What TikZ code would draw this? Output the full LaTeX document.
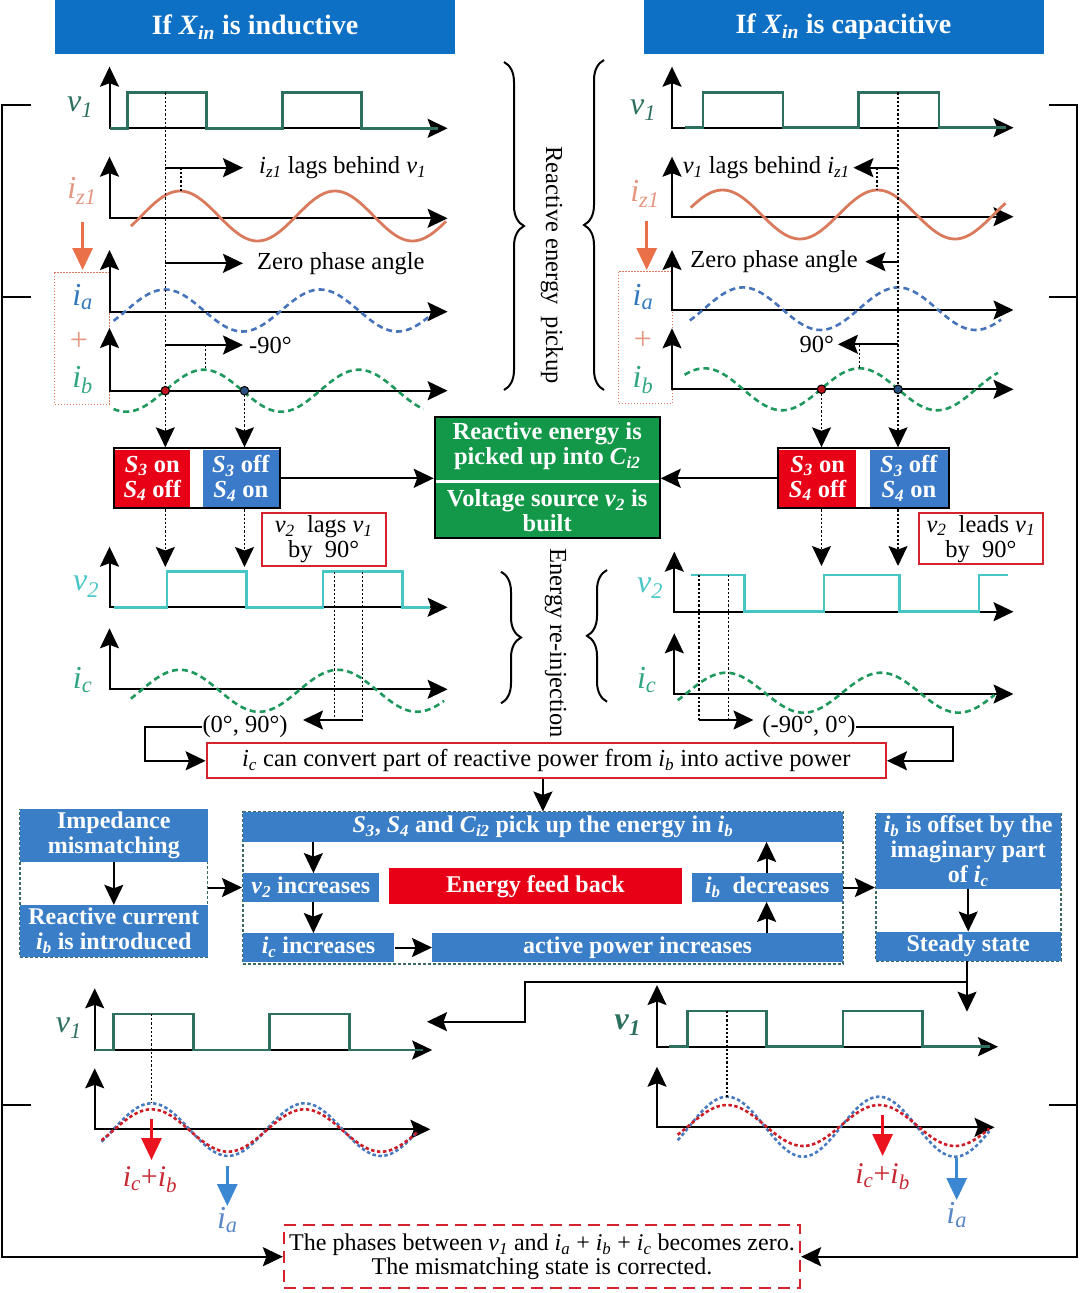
\documentclass[tikz,border=0pt]{standalone}
\usepackage{fontspec}
\setmainfont{Liberation Serif}
\usetikzlibrary{arrows.meta,decorations.pathreplacing,calc}
\definecolor{hdrblue}{RGB}{14,112,196}
\definecolor{boxblue}{RGB}{58,126,200}
\definecolor{vteal}{RGB}{46,112,96}
\definecolor{izor}{RGB}{218,122,92}
\definecolor{izlab}{RGB}{228,150,128}
\definecolor{oarr}{RGB}{234,112,72}
\definecolor{iablue}{RGB}{70,115,185}
\definecolor{ialab}{RGB}{50,120,190}
\definecolor{ibgreen}{RGB}{30,152,92}
\definecolor{iblab}{RGB}{50,165,130}
\definecolor{vcyan}{RGB}{72,198,198}
\definecolor{sred}{RGB}{232,0,22}
\definecolor{sblue}{RGB}{58,122,200}
\definecolor{fgreen}{RGB}{18,152,72}
\definecolor{bred}{RGB}{212,35,45}
\definecolor{dteal}{RGB}{60,105,100}
\definecolor{cred}{RGB}{205,30,40}
\definecolor{cblue}{RGB}{72,122,192}
\definecolor{arred}{RGB}{235,20,30}
\definecolor{arblue}{RGB}{60,135,210}
\definecolor{sumred}{RGB}{200,40,50}
\definecolor{ialab2}{RGB}{90,135,200}
\definecolor{dotred}{RGB}{190,20,30}
\definecolor{dotblue}{RGB}{40,80,130}
\newcommand\sv[2]{\textit{#1}\textsubscript{\textit{#2}}}
\newcommand\axs[4]{\draw[ax] (#1,#3) -- (#1,#2) -- (#4,#2);}
\newcommand\swv[7]{\draw[#1] plot[domain=#2:#3,samples=110,smooth] (\x,{#4-#5*cos((\x-#6)*(360/#7))});}
\begin{document}
\begin{tikzpicture}[x=1pt,y=-1pt,font=\fontsize{24.5}{26}\selectfont,
 tip/.tip={Stealth[length=20pt,width=19pt,inset=3.5pt]},
 ax/.style={line width=2pt,tip-tip},
 arr/.style={line width=2pt,-tip},
 dotl/.style={line width=1.4pt,dash pattern=on 2.2pt off 2pt},
 dotarr/.style={dotl,-tip},
 sqw/.style={line width=2.6pt},
 swave/.style={line width=2.8pt},
 dwave/.style={line width=2.6pt,dash pattern=on 6pt off 4pt},
 bwave/.style={line width=2.6pt,dash pattern=on 3.5pt off 2.5pt},
 lab/.style={inner sep=0pt,font=\fontsize{32}{34}\selectfont},
 ann/.style={inner sep=0pt},
 hdr/.style={fill=hdrblue,text=white,font=\bfseries\fontsize{28}{30}\selectfont,minimum width=400,minimum height=54,inner sep=0pt},
 fbox/.style={fill=boxblue,text=white,font=\bfseries\fontsize{24}{25}\selectfont,inner sep=0pt,align=center},
 grp/.style={draw=dteal,line width=1.6pt,dash pattern=on 3pt off 2pt,inner sep=0pt},
 rbox/.style={draw=bred,line width=2pt,fill=white,inner sep=0pt,align=center},
 sframe/.style={draw=black,line width=2pt,fill=white,inner sep=0pt},
 sfill/.style={font=\bfseries\fontsize{24.5}{25}\selectfont,text=white,align=center,inner sep=0pt,minimum height=57},
 gtxt/.style={font=\bfseries\fontsize{24.5}{25}\selectfont,text=white,align=center,inner sep=0pt},
 brc/.style={decorate,decoration={brace,amplitude=20pt},line width=2pt},
 bline/.style={line width=2.4pt},
 bigarr/.style={line width=3pt,-{Triangle[length=22pt,width=20pt]}},
 odot/.style={draw=izor,line width=1pt,dash pattern=on 1.5pt off 1.5pt}
]
\useasboundingbox (0,0) rectangle (1080,1293);

% ---------- headers
\node[hdr] (hL) at (255,27) {If \sv{X}{in} is inductive};
\node[hdr] (hR) at (843.5,27) {If \sv{X}{in} is capacitive};

% ---------- grouping boxes (dotted orange)
\draw[odot] (54,272.7) rectangle (109.5,404);
\draw[odot] (618.5,271.7) rectangle (672.6,403.3);

% ---------- axes
\axs{109.5}{128.3}{66.7}{447.6}
\axs{109.5}{218.3}{156.7}{447.6}
\axs{109.5}{311.7}{250}{447.6}
\axs{109.5}{390.7}{328}{447.6}
\axs{109.5}{607.3}{546.7}{447.6}
\axs{109.5}{689.3}{628.3}{447.6}
\axs{672}{127.7}{66.7}{1013.5}
\axs{672}{216.7}{156.7}{1013.5}
\axs{672}{310}{250}{1013.5}
\axs{672}{389.3}{328.3}{1013.5}
\axs{674.3}{611.7}{551.7}{1013.5}
\axs{674.3}{694}{633.3}{1013.5}
\axs{94.7}{1050}{988.3}{432.2}
\axs{94.7}{1129.3}{1068.3}{430.4}
\axs{657}{1046.7}{985}{998}
\axs{657}{1127.3}{1066.7}{994.5}

% ---------- square waves
\draw[sqw,vteal] (109.5,128.3) -| (127.4,92.3) -| (206.6,128.3) -| (282.4,92.3) -| (361.6,128.3) -- (438,128.3);
\draw[sqw,vteal] (684.6,127.7) -| (702.9,92.3) -| (783,127.7) -| (858.5,92.3) -| (938.8,127.7) -- (1006,127.7);
\draw[sqw,vcyan] (113.6,607.3) -| (167,571.7) -| (246.2,607.3) -| (323,571.7) -| (402.2,607.3) -- (430.4,607.3);
\draw[sqw,vcyan] (690.8,575) -| (744.2,611.7) -| (824,575) -| (899.2,611.7) -| (979,575) -- (1008,575);
\draw[sqw,vteal] (94.7,1050) -| (113.6,1014) -| (193.5,1050) -| (269.3,1014) -| (349.5,1050) -- (423,1050);
\draw[sqw,vteal] (669,1046.7) -| (687.4,1011) -| (766.6,1046.7) -| (843,1011) -| (922.2,1046.7) -- (990,1046.7);

% ---------- sine waves
\swv{swave,izor}{131}{446}{216}{25}{180}{155}
\swv{dwave,iablue}{113.6}{428.7}{310.5}{21}{165}{155}
\swv{dwave,ibgreen}{113.6}{423.5}{390.7}{21}{203.75}{155}
\swv{dwave,ibgreen}{130.9}{444}{690.8}{21}{180}{158}
\swv{swave,izor}{690.8}{1005.6}{214.5}{24.5}{877.5}{155}
\swv{dwave,iablue}{689.8}{1001}{308.7}{21.3}{898}{155}
\swv{dwave,ibgreen}{684.6}{998}{389.3}{21}{859.5}{155}
\swv{dwave,ibgreen}{677.7}{994.5}{692.7}{20}{726}{155}
\swv{bwave,cblue}{101.6}{416.7}{1129.6}{26.3}{151.5}{153}
\swv{bwave,cred}{101.6}{416.7}{1130.5}{21.2}{151.5}{153}
\swv{bwave,cblue}{677.7}{989.4}{1126.7}{30}{727}{152}
\swv{bwave,cred}{677.7}{989.4}{1125.5}{20.5}{727}{152}

% ---------- wave labels
\node[lab,text=vteal] (lv1L) at (80,107) {\sv{v}{1}};
\node[lab,text=izlab] (lizL) at (82,191) {\sv{i}{z1}};
\node[lab,text=ialab] (liaL) at (82.6,296.7) {\sv{i}{a}};
\node[lab,text=izlab] (lplL) at (79,341.7) {+};
\node[lab,text=iblab] (libL) at (82.6,380) {\sv{i}{b}};
\node[lab,text=vcyan] (lv2L) at (86,586.7) {\sv{v}{2}};
\node[lab,text=iblab] (licL) at (82.6,680) {\sv{i}{c}};
\node[lab,text=vteal] (lv1R) at (643,110) {\sv{v}{1}};
\node[lab,text=izlab] (lizR) at (645,194) {\sv{i}{z1}};
\node[lab,text=ialab] (liaR) at (643,296.7) {\sv{i}{a}};
\node[lab,text=izlab] (lplR) at (643,340) {+};
\node[lab,text=iblab] (libR) at (643,380) {\sv{i}{b}};
\node[lab,text=vcyan] (lv2R) at (650,588.3) {\sv{v}{2}};
\node[lab,text=iblab] (licR) at (646.7,680) {\sv{i}{c}};
\node[lab,text=vteal] (lv1BL) at (68.9,1028.3) {\sv{v}{1}};
\node[lab,text=vteal,font=\bfseries\fontsize{32}{34}\selectfont] (lv1BR) at (627.8,1025) {\sv{v}{1}};

% orange arrows
\draw[bigarr,oarr] (82.6,222) -- (82.6,270);
\draw[bigarr,oarr] (646.7,221) -- (646.7,270);

% ---------- annotations, left
\draw[arr] (165.3,167.7) -- (243,167.7);
\node[ann,anchor=west] (tlagL) at (259,167.7) {\sv{i}{z1} lags behind \sv{v}{1}};
\draw[dotl] (181,167.7) -- (181,191);
\draw[arr] (165.3,263.3) -- (243,263.3);
\node[ann,anchor=west] (tzeroL) at (257,263.3) {Zero phase angle};
\draw[arr] (165.3,345) -- (243,345);
\node[ann,anchor=west] (tm90) at (249,345) {-90°};
\draw[dotl] (205.6,345) -- (205.6,369.5);
% annotations, right
\draw[arr] (898,167.7) -- (853.4,167.7);
\node[ann,anchor=east] (tlagR) at (850,167.7) {\sv{v}{1} lags behind \sv{i}{z1}};
\draw[dotl] (876.8,167.7) -- (876.8,190);
\draw[arr] (898,261.7) -- (865.4,261.7);
\node[ann,anchor=east] (tzeroR) at (858,262) {Zero phase angle};
\draw[arr] (898,344.3) -- (837.9,344.3);
\node[ann,anchor=east] (tp90) at (834,344.3) {90°};
\draw[dotl] (859.6,344.3) -- (859.6,368.3);

% ---------- braces
\draw[brc] (504,62) -- (504,390);
\draw[brc] (604,390) -- (604,60);
\draw[brc] (501,571.7) -- (501,703.3);
\draw[brc] (607,701.7) -- (607,570);
\node[ann,rotate=-90] (trep) at (552,265) {Reactive energy\ \ pickup};
\node[ann,rotate=-90] (treinj) at (555.5,643) {Energy re-injection};

% ---------- switch boxes
\node[sframe,minimum width=166,minimum height=60] (sL) at (196.6,478.3) {};
\node[sfill,fill=sred,minimum width=75] (sLa) at (152.3,478.3) {\sv{S}{3} on\\\sv{S}{4} off};
\node[sfill,fill=sblue,minimum width=75.6] (sLb) at (240.8,478.3) {\sv{S}{3} off\\\sv{S}{4} on};
\node[sframe,minimum width=170.5,minimum height=60] (sR) at (863.55,478.3) {};
\node[sfill,fill=sred,minimum width=76.7] (sRa) at (817.65,478.3) {\sv{S}{3} on\\\sv{S}{4} off};
\node[sfill,fill=sblue,minimum width=77.9] (sRb) at (908.85,478.3) {\sv{S}{3} off\\\sv{S}{4} on};

% ---------- green box
\node[draw=black,line width=2pt,fill=fgreen,minimum width=225,minimum height=121.6,inner sep=0pt] (gb) at (547.2,477.5) {};
\draw[white,line width=2.5pt] (436,481.7) -- (658.5,481.7);
\node[gtxt] (gbt) at (547.2,446) {Reactive energy is\\picked up into \sv{C}{i2}};
\node[gtxt] (gbb) at (547.2,511) {Voltage source \sv{v}{2} is\\built};
\draw[arr] (sL.east) -- (gb.west |- sL.east);
\draw[arr] (sR.west) -- (gb.east |- sR.west);

% ---------- dotted arrows through switch boxes
\draw[dotarr] (165.3,92.3) -- (165.3,0 |- sL.north);
\draw[dotarr] (244.5,390.7) -- (244.5,0 |- sL.north);
\draw[dotarr] (165.3,0 |- sL.south) -- (165.3,567);
\draw[dotarr] (244.5,0 |- sL.south) -- (244.5,567);
\draw[dotarr] (898,92.3) -- (898,0 |- sR.north);
\draw[dotarr] (821.5,389.3) -- (821.5,0 |- sR.north);
\draw[dotarr] (821.5,0 |- sR.south) -- (821.5,566);
\draw[dotarr] (898,0 |- sR.south) -- (898,566);
\filldraw[fill=dotred,draw=black,line width=1pt] (165.3,390.7) circle (4.3pt);
\filldraw[fill=dotblue,draw=black,line width=1pt] (244.5,390.7) circle (4.3pt);
\filldraw[fill=dotred,draw=black,line width=1pt] (821.5,389.3) circle (4.3pt);
\filldraw[fill=dotblue,draw=black,line width=1pt] (898,389.3) circle (4.3pt);

% ---------- phase boxes
\node[rbox,minimum width=124,minimum height=52.4,font=\fontsize{24.5}{25}\selectfont] (lagbox) at (323.7,539.5) {\sv{v}{2}\ \ lags \sv{v}{1}\\by\ \ 90°};
\node[rbox,minimum width=124,minimum height=50.7,font=\fontsize{24.5}{25}\selectfont] (leadbox) at (980.8,538.7) {\sv{v}{2}\ \ leads \sv{v}{1}\\by\ \ 90°};

% ---------- phase interval markers
\draw[dotl] (334.7,571.7) -- (334.7,720);
\draw[dotl] (362.6,571.7) -- (362.6,720);
\draw[arr] (362.6,720) -- (303,720);
\draw[dotl] (699,575) -- (699,720);
\draw[dotl] (728.7,575) -- (728.7,720);
\draw[arr] (699,720) -- (753.5,720);
\node[ann] (ang1) at (245,726.7) {(0°, 90°)};
\node[ann] (ang2) at (809,726.7) {(-90°, 0°)};

% ---------- conversion box
\node[rbox,minimum width=679.4,minimum height=35] (conv) at (546.3,760.8) {\sv{i}{c} can convert part of reactive power from \sv{i}{b} into active power};
\draw[arr] (ang1.west) -- (145.3,726.7) |- (conv.west);
\draw[arr] (ang2.east) -- (953.2,726.7) |- (conv.east);

% ---------- flow chart
\node[grp,minimum width=187.6,minimum height=147.4] (gL) at (113.8,883) {};
\node[fbox,minimum width=187.6,minimum height=52.4] (imp) at (113.8,835.5) {Impedance\\mismatching};
\node[fbox,minimum width=187.6,minimum height=51.7] (rcur) at (113.8,930.85) {Reactive current\\\sv{i}{b} is introduced};
\draw[arr] (imp) -- (rcur);

\node[grp,minimum width=600.2,minimum height=152.3] (gM) at (542.9,887.85) {};
\node[fbox,minimum width=600.2,minimum height=30] (pick) at (542.9,826.7) {\sv{S}{3}, \sv{S}{4} and \sv{C}{i2} pick up the energy in \sv{i}{b}};
\node[fbox,minimum width=136,minimum height=28.4] (v2i) at (310.8,887.5) {\sv{v}{2} increases};
\node[fbox,fill=sred,minimum width=292.9,minimum height=36] (efb) at (535.45,886.3) {Energy feed back};
\node[fbox,minimum width=151.5,minimum height=28.4] (ibd) at (767.25,887.5) {\sv{i}{b}\ \ decreases};
\node[fbox,minimum width=151.5,minimum height=28.4] (ici) at (318.55,947.5) {\sv{i}{c} increases};
\node[fbox,minimum width=410.8,minimum height=28.4] (api) at (637.6,947.5) {active power increases};
\draw[arr] (conv.south -| pick.north) -- (pick.north);
\draw[arr] (313.4,0 |- pick.south) -- (313.4,0 |- v2i.north);
\draw[arr] (313.4,0 |- v2i.south) -- (313.4,0 |- ici.north);
\draw[arr] (ici.east) -- (api.west);
\draw[arr] (766.6,0 |- api.north) -- (766.6,0 |- ibd.south);
\draw[arr] (766.6,0 |- ibd.north) -- (766.6,0 |- pick.south);
\draw[arr] (gL.east |- v2i.west) -- (gM.west |- v2i.west);

\node[grp,minimum width=185,minimum height=147.4] (gR) at (968.2,887) {};
\node[fbox,minimum width=185,minimum height=75.7] (offs) at (968.2,851.15) {\sv{i}{b} is offset by the\\imaginary part\\of \sv{i}{c}};
\node[fbox,minimum width=185,minimum height=29] (stdy) at (968.2,946.2) {Steady state};
\draw[arr] (ibd.east) -- (gR.west |- ibd.east);
\draw[arr] (offs) -- (stdy);
\coordinate (brk) at (967,981.7);
\coordinate (tipR) at (967,1011.7);
\coordinate (tipL) at (427,1021.7);
\draw[arr] (stdy.south -| brk) -- (tipR);
\draw[arr] (brk) -- (525,981.7) -- (525,1021.7) -- (tipL);

% ---------- bottom plots annotations
\draw[dotl] (151.5,1014) -- (151.5,1103.3);
\draw[dotl] (727,1011) -- (727,1096.7);
\draw[bigarr,arred] (151.5,1119) -- (151.5,1160);
\node[lab,text=sumred,font=\fontsize{30}{32}\selectfont] (lsumL) at (150,1180) {\sv{i}{c}+\sv{i}{b}};
\draw[bigarr,arblue] (227.3,1166) -- (227.3,1206);
\node[lab,text=ialab2] (liaBL) at (227.3,1220) {\sv{i}{a}};
\draw[bigarr,arred] (882.6,1115) -- (882.6,1156);
\node[lab,text=sumred,font=\fontsize{30}{32}\selectfont] (lsumR) at (882.6,1177) {\sv{i}{c}+\sv{i}{b}};
\draw[bigarr,arblue] (956.7,1158) -- (956.7,1200);
\node[lab,text=ialab2] (liaBR) at (956.7,1215) {\sv{i}{a}};

% ---------- final box and outer brackets
\node[draw=bred,line width=2.2pt,dash pattern=on 12pt off 7pt,minimum width=516,minimum height=63.3,inner sep=0pt,align=center,font=\fontsize{24}{24}\selectfont] (fin) at (542,1256.7) {The phases between \sv{v}{1} and \sv{i}{a} + \sv{i}{b} + \sv{i}{c} becomes zero.\\The mismatching state is corrected.};
\draw[bline,-tip] (31,105) -- (2,105) -- (2,1256.7) -- (fin.west);
\draw[bline] (2,296.7) -- (31,296.7);
\draw[bline] (2,1105) -- (31,1105);
\draw[bline,-tip] (1049,105) -- (1077,105) -- (1077,1256.7) -- (fin.east);
\draw[bline] (1049,296.7) -- (1077,296.7);
\draw[bline] (1049,1105) -- (1077,1105);
\end{tikzpicture}
\end{document}
